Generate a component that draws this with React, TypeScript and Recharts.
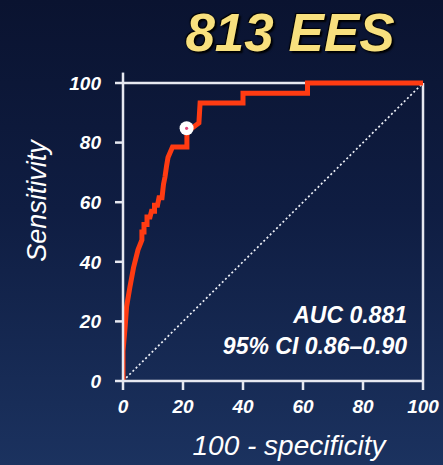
import { LineChart, Line, XAxis, YAxis, ReferenceLine, ReferenceDot } from 'recharts';

// ROC curve points (100 - specificity, sensitivity)
const fpr = [0, 0, 0.7, 1.2, 2.3, 3.5, 5, 6.3, 6.3, 7, 7, 8, 8, 9, 9.5, 10.5, 10.5, 11.5, 12, 13, 13.5, 14, 14.5, 15, 16.5, 21.3, 21.3, 25.3, 25.7, 40, 40, 61.5, 61.5, 100];
const sensitivity = [0, 10, 18, 25, 31.5, 38, 44, 47.3, 50, 50, 52.5, 52.5, 55, 55, 57, 57, 59, 59, 61.5, 61.5, 66, 68.5, 72, 75, 78.5, 78.5, 83.6, 86.6, 93.3, 93.3, 96.6, 96.6, 100, 100];
const diagonal = [0, 100];
const ticks = [0, 20, 40, 60, 80, 100];
const cutoff = { x: 21.2, y: 84.8 };

const rocData = fpr.map((x, i) => ({ x, roc: sensitivity[i] }));
const chanceData = diagonal.map((v) => ({ x: v, chance: v }));

const axisColor = '#e6e8f0';
const tickStyle = { fill: '#ffffff', fontSize: 19, fontWeight: 700, fontStyle: 'italic', fontFamily: 'Liberation Sans, Arial, sans-serif' };

export default function App() {
  return (
    <div
      style={{
        position: 'absolute',
        left: 0,
        top: 0,
        width: 443,
        height: 465,
        overflow: 'hidden',
        background: 'linear-gradient(180deg, #0a1330 0%, #0f1d42 45%, #1b325f 100%)',
        fontFamily: 'Liberation Sans, Arial, sans-serif',
        color: '#fff',
      }}
    >
      <div
        style={{
          position: 'absolute',
          left: 180,
          width: 220,
          top: 2,
          textAlign: 'center',
          fontSize: 53,
          fontWeight: 700,
          fontStyle: 'italic',
          color: '#f8e07e',
          textShadow: '2px 2px 2px #000, -1px -1px 1px #000',
          whiteSpace: 'nowrap',
        }}
      >
        813 EES
      </div>

      <LineChart width={443} height={465} margin={{ top: 83, right: 20, bottom: 34, left: 63 }}>
        <XAxis
          dataKey="x"
          type="number"
          domain={[0, 100]}
          ticks={ticks}
          allowDataOverflow
          height={50}
          stroke={axisColor}
          strokeWidth={2.5}
          tickSize={9}
          tickMargin={10}
          tick={tickStyle}
        />
        <YAxis
          type="number"
          domain={[0, 100]}
          ticks={ticks}
          width={60}
          stroke={axisColor}
          strokeWidth={2.5}
          tickSize={8}
          tickMargin={14}
          tick={tickStyle}
        />
        <ReferenceLine y={100} stroke={axisColor} strokeWidth={2.5} />
        <ReferenceLine x={100} stroke={axisColor} strokeWidth={2.5} />
        <ReferenceLine
          segment={[{ x: 0, y: 100 }, { x: 0, y: 103.5 }]}
          ifOverflow="visible"
          stroke={axisColor}
          strokeWidth={2.5}
        />
        <Line
          data={chanceData}
          dataKey="chance"
          type="linear"
          stroke="#eef1f8"
          strokeWidth={1.7}
          strokeDasharray="2 2.5"
          dot={false}
          isAnimationActive={false}
        />
        <Line
          data={rocData}
          dataKey="roc"
          type="linear"
          stroke="#ff3b12"
          strokeWidth={5}
          strokeLinejoin="miter"
          dot={false}
          isAnimationActive={false}
        />
        <ReferenceDot
          x={cutoff.x}
          y={cutoff.y}
          r={7}
          shape={(p: any) => (
            <g>
              <circle cx={p.cx} cy={p.cy} r={7} fill="#ffffff" />
              <circle cx={p.cx} cy={p.cy} r={1.6} fill="#e0457a" />
            </g>
          )}
        />
      </LineChart>

      <div
        style={{
          position: 'absolute',
          left: 37,
          top: 201,
          transform: 'translate(-50%, -50%) rotate(-90deg)',
          fontSize: 27,
          fontStyle: 'italic',
          whiteSpace: 'nowrap',
        }}
      >
        Sensitivity
      </div>
      <div
        style={{
          position: 'absolute',
          left: 289,
          top: 446,
          transform: 'translate(-50%, -50%)',
          fontSize: 28,
          fontStyle: 'italic',
          whiteSpace: 'nowrap',
        }}
      >
        100 - specificity
      </div>
      <div
        style={{
          position: 'absolute',
          right: 36,
          top: 300,
          textAlign: 'right',
          fontSize: 23,
          fontWeight: 700,
          fontStyle: 'italic',
          lineHeight: '31px',
          whiteSpace: 'nowrap',
        }}
      >
        <div>AUC 0.881</div>
        <div>95% CI 0.86–0.90</div>
      </div>
    </div>
  );
}
